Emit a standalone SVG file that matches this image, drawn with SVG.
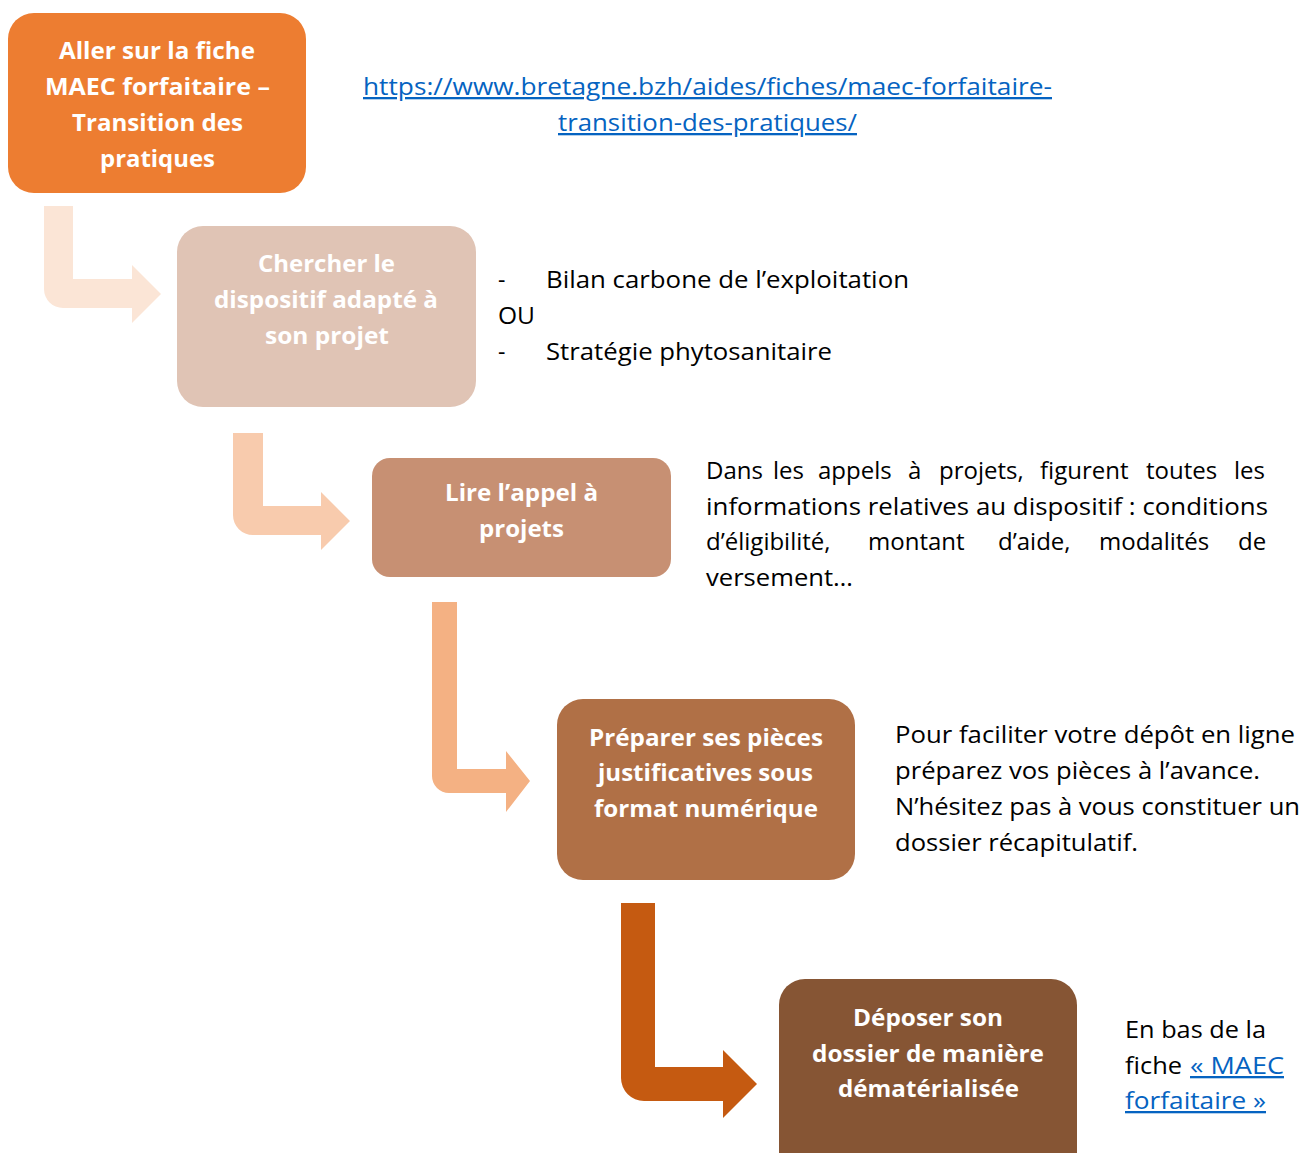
<svg xmlns="http://www.w3.org/2000/svg" width="1303" height="1153" viewBox="0 0 1303 1153">
<style>
.bt{font-family:"Open Sans","Noto Sans","Liberation Sans",sans-serif;font-weight:bold;font-size:23px;fill:#fff}
.t{font-family:"Open Sans","Noto Sans","Liberation Sans",sans-serif;font-size:23px;fill:#000}
.j{font-size:24px}
.lk{fill:#0563C1;text-decoration:underline}
</style>
<rect width="1303" height="1153" fill="#fff"/>
<g id="connectors">
<path d="M44,206 H73 V279 H132 V265 L161,294 L132,323 V308 H63 A19,19 0 0 1 44,289 Z" fill="#FBE5D6"/>
<path d="M233,433 H263 V506 H321 V492 L350,521 L321,550 V535 H253 A20,20 0 0 1 233,515 Z" fill="#F8CBAD"/>
<path d="M432,602 H457 V769 H506 V751 L530,781 L506,812 V793 H449 A17,17 0 0 1 432,776 Z" fill="#F4B183"/>
<path d="M621,903 H655 V1067 H723 V1050 L757,1084 L723,1118 V1101 H644 A23,23 0 0 1 621,1078 Z" fill="#C55A11"/>
</g>
<g id="n1">
<rect x="8" y="13" width="298" height="180" rx="26" fill="#ED7D31"/>
<text class="bt"><tspan x="59" y="59" textLength="196" lengthAdjust="spacingAndGlyphs">Aller sur la fiche</tspan><tspan x="45" y="95" textLength="225" lengthAdjust="spacingAndGlyphs">MAEC forfaitaire –</tspan><tspan x="72" y="131" textLength="171" lengthAdjust="spacingAndGlyphs">Transition des</tspan><tspan x="100" y="167" textLength="115" lengthAdjust="spacingAndGlyphs">pratiques</tspan></text>
</g>
<g id="n2">
<rect x="177" y="226" width="299" height="181" rx="26" fill="#E0C4B5"/>
<text class="bt"><tspan x="258" y="272" textLength="137" lengthAdjust="spacingAndGlyphs">Chercher le</tspan><tspan x="214" y="308" textLength="224" lengthAdjust="spacingAndGlyphs">dispositif adapté à</tspan><tspan x="265" y="344" textLength="124" lengthAdjust="spacingAndGlyphs">son projet</tspan></text>
</g>
<g id="n3">
<rect x="372" y="458" width="299" height="119" rx="18" fill="#C79073"/>
<text class="bt"><tspan x="445" y="501" textLength="153" lengthAdjust="spacingAndGlyphs">Lire l’appel à</tspan><tspan x="479" y="537" textLength="85" lengthAdjust="spacingAndGlyphs">projets</tspan></text>
</g>
<g id="n4">
<rect x="557" y="699" width="298" height="181" rx="26" fill="#B07046"/>
<text class="bt"><tspan x="589" y="746" textLength="234" lengthAdjust="spacingAndGlyphs">Préparer ses pièces</tspan><tspan x="598" y="781" textLength="215" lengthAdjust="spacingAndGlyphs">justificatives sous</tspan><tspan x="594" y="817" textLength="224" lengthAdjust="spacingAndGlyphs">format numérique</tspan></text>
</g>
<g id="n5">
<rect x="779" y="979" width="298" height="200" rx="26" fill="#865534"/>
<text class="bt"><tspan x="853" y="1026" textLength="150" lengthAdjust="spacingAndGlyphs">Déposer son</tspan><tspan x="812" y="1062" textLength="232" lengthAdjust="spacingAndGlyphs">dossier de manière</tspan><tspan x="838" y="1097" textLength="181" lengthAdjust="spacingAndGlyphs">dématérialisée</tspan></text>
</g>
<g id="notes">
<text class="t lk"><tspan x="363" y="95" textLength="689" lengthAdjust="spacingAndGlyphs">https://www.bretagne.bzh/aides/fiches/maec-forfaitaire-</tspan><tspan x="558" y="131" textLength="299" lengthAdjust="spacingAndGlyphs">transition-des-pratiques/</tspan></text>
<text class="t"><tspan x="498" y="288">-</tspan><tspan x="546" y="288" textLength="363" lengthAdjust="spacingAndGlyphs">Bilan carbone de l’exploitation</tspan><tspan x="498" y="324" textLength="37" lengthAdjust="spacingAndGlyphs">OU</tspan><tspan x="498" y="360">-</tspan><tspan x="546" y="360" textLength="286" lengthAdjust="spacingAndGlyphs">Stratégie phytosanitaire</tspan></text>
<text class="t j"><tspan x="706" y="479">Dans</tspan><tspan x="773" y="479">les</tspan><tspan x="818" y="479">appels</tspan><tspan x="908" y="479">à</tspan><tspan x="939" y="479">projets,</tspan><tspan x="1040" y="479">figurent</tspan><tspan x="1146" y="479">toutes</tspan><tspan x="1234" y="479">les</tspan></text>
<text class="t"><tspan x="706" y="515" textLength="562" lengthAdjust="spacingAndGlyphs">informations relatives au dispositif : conditions</tspan></text>
<text class="t j"><tspan x="706" y="550">d’éligibilité,</tspan><tspan x="868" y="550">montant</tspan><tspan x="998" y="550">d’aide,</tspan><tspan x="1099" y="550">modalités</tspan><tspan x="1238" y="550">de</tspan></text>
<text class="t"><tspan x="706" y="586" textLength="147" lengthAdjust="spacingAndGlyphs">versement…</tspan></text>
<text class="t"><tspan x="895" y="743" textLength="400" lengthAdjust="spacingAndGlyphs">Pour faciliter votre dépôt en ligne</tspan><tspan x="895" y="779" textLength="365" lengthAdjust="spacingAndGlyphs">préparez vos pièces à l’avance.</tspan><tspan x="895" y="815" textLength="405" lengthAdjust="spacingAndGlyphs">N’hésitez pas à vous constituer un</tspan><tspan x="895" y="851" textLength="243" lengthAdjust="spacingAndGlyphs">dossier récapitulatif.</tspan></text>
<text class="t"><tspan x="1125" y="1038" textLength="141" lengthAdjust="spacingAndGlyphs">En bas de la</tspan><tspan x="1125" y="1074" textLength="57" lengthAdjust="spacingAndGlyphs">fiche</tspan><tspan x="1190" y="1074" class="lk" textLength="94" lengthAdjust="spacingAndGlyphs">« MAEC</tspan><tspan x="1125" y="1109" class="lk" textLength="141" lengthAdjust="spacingAndGlyphs">forfaitaire »</tspan></text>
</g>
</svg>
